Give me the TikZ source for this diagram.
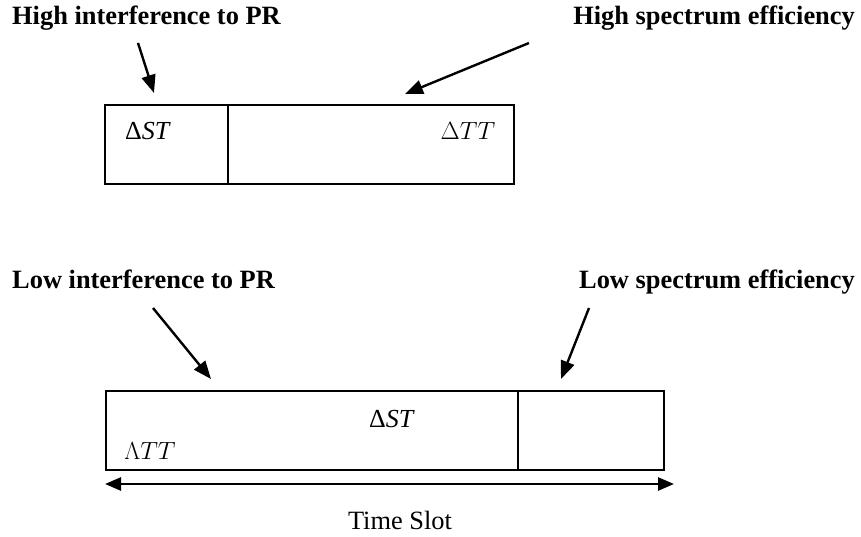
\documentclass[tikz,border=0pt]{standalone}
\usepackage{fontspec}
\setmainfont{Liberation Serif}
\usetikzlibrary{arrows.meta}
\newfontfamily\lmfont{Latin Modern Roman}
\begin{document}
\begin{tikzpicture}[x=1pt,y=-1pt,
  lbl/.style={inner sep=0pt,font=\fontsize{26.4}{30}\selectfont\bfseries},
  cell/.style={draw,line width=2pt,inner sep=0pt,anchor=north west},
  sym/.style={inner sep=0pt,font=\fontsize{26}{30}\selectfont},
  pointer/.style={line width=2.4pt,-{Triangle[length=18pt,width=14pt]}},
  span/.style={line width=2.6pt,{Triangle[length=16pt,width=13pt]}-{Triangle[length=16pt,width=13pt]}}]
\useasboundingbox (0,0) rectangle (861,537);
% labels
\node[lbl,anchor=base west] (hi) at (12,25) {High interference to PR};
\node[lbl,anchor=base east] (hs) at (855,25) {High spectrum efficiency};
\node[lbl,anchor=base west] (li) at (12,288) {Low interference to PR};
\node[lbl,anchor=base east] (ls) at (855,288) {Low spectrum efficiency};
% top frame
\node[cell,minimum width=123pt,minimum height=79pt] (t1) at (104,104) {};
\node[cell,minimum width=286pt,minimum height=79pt] (t2) at (227,104) {};
\node[sym,anchor=base] (tst) at (148,140) {Δ\textit{ST}};
\node[sym,anchor=base,font=\fontsize{24}{28}\selectfont\lmfont] (ttt) at (468,140) {$\Delta TT$};
% bottom frame
\node[cell,minimum width=412pt,minimum height=79pt] (b1) at (105,390) {};
\node[cell,minimum width=146pt,minimum height=79pt] (b2) at (517,390) {};
\node[sym,anchor=base] (bst) at (392,427) {Δ\textit{ST}};
\node[sym,anchor=base,font=\fontsize{23}{26}\selectfont\lmfont] (btt) at (150,459) {$\Lambda TT$};
% time slot
\coordinate (tsl) at (105,484);
\coordinate (tsr) at (674,484);
\draw[span] (tsl) -- (tsr);
\node[inner sep=0pt,anchor=base,font=\fontsize{26.4}{30}\selectfont] (ts) at (400,529) {Time Slot};
% pointers
\coordinate (a1s) at (138,43); \coordinate (a1e) at (154,93);
\coordinate (a2s) at (529,43); \coordinate (a2e) at (405,94);
\coordinate (a3s) at (153,308); \coordinate (a3e) at (211,379);
\coordinate (a4s) at (589,308); \coordinate (a4e) at (561,379);
\draw[pointer] (a1s) -- (a1e);
\draw[pointer] (a2s) -- (a2e);
\draw[pointer] (a3s) -- (a3e);
\draw[pointer] (a4s) -- (a4e);
\end{tikzpicture}
\end{document}
